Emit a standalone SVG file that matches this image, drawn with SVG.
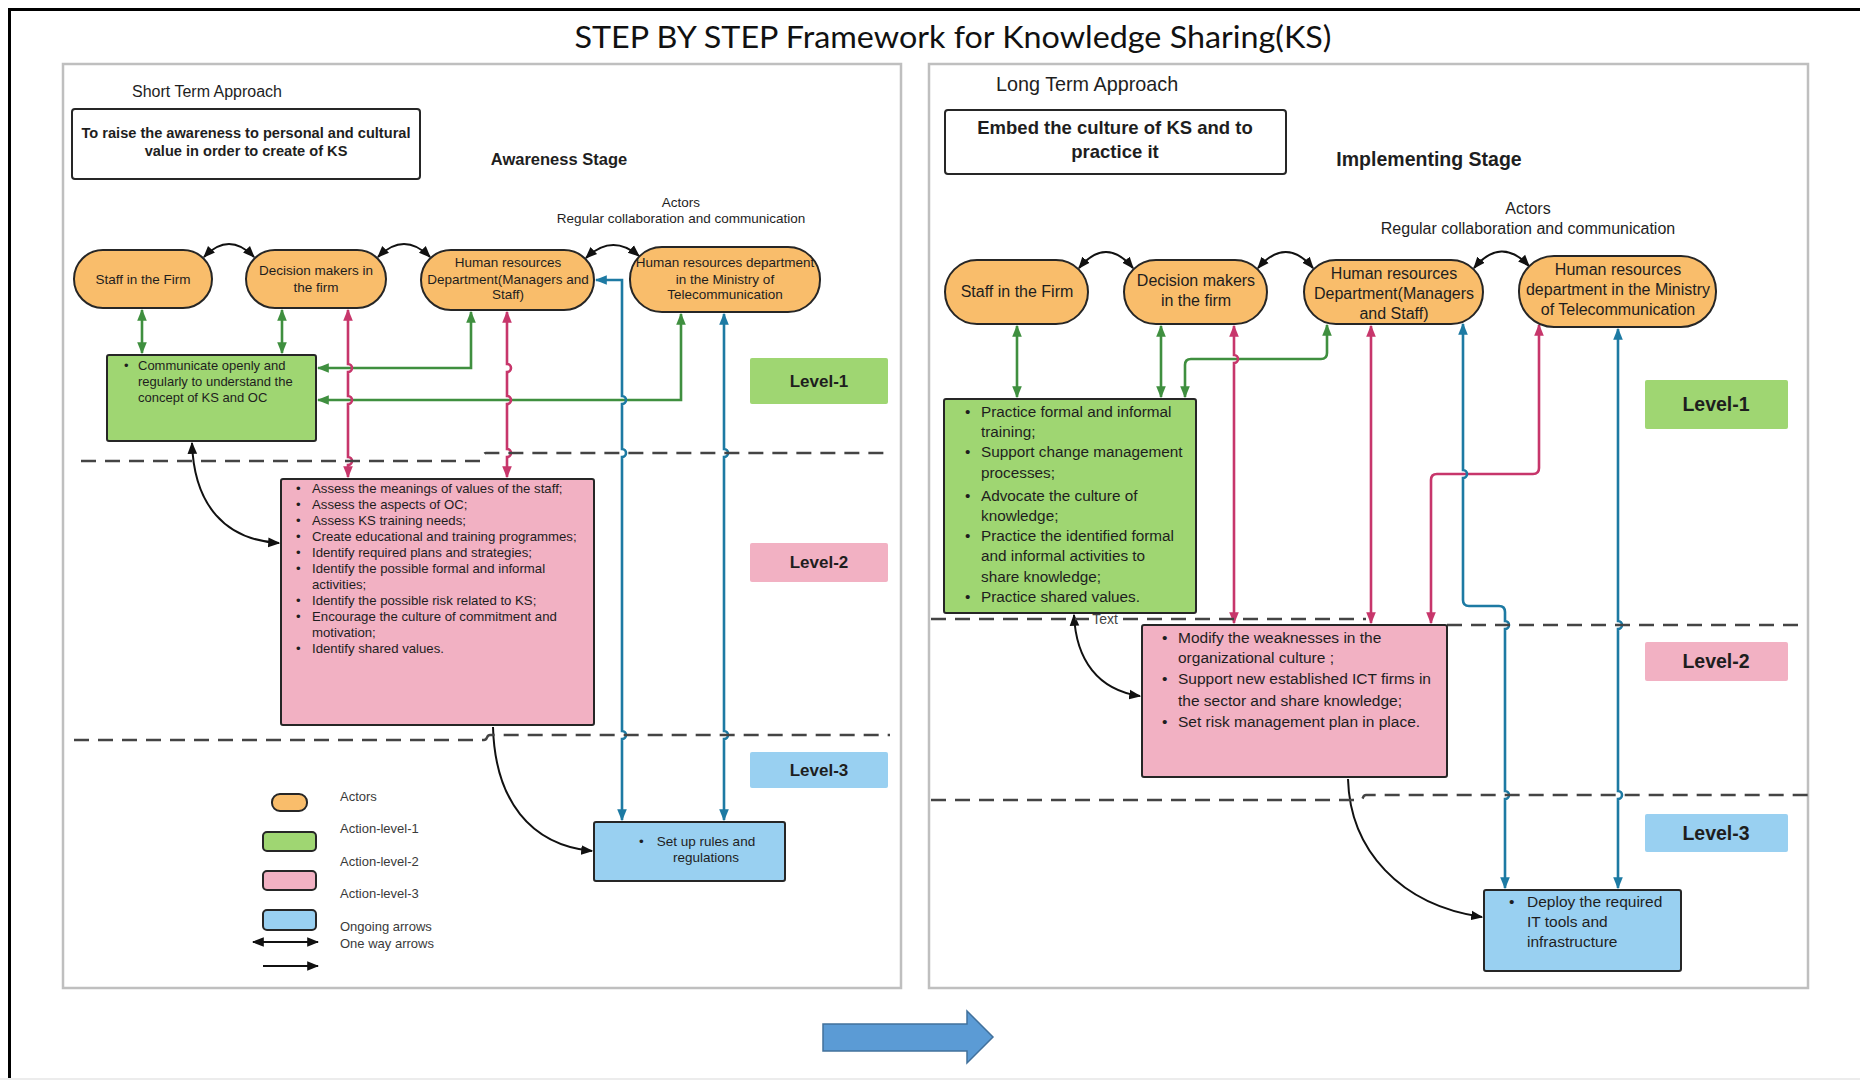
<svg xmlns="http://www.w3.org/2000/svg" width="1860" height="1080" viewBox="0 0 1860 1080">
<style>
text{font-family:"Liberation Sans",Arial,sans-serif;fill:#1e1e1e}
.panel{fill:#fff;stroke:#bfbfbf;stroke-width:2.5}
.act{fill:#f9bd6b;stroke:#262626;stroke-width:2}
.a1{fill:#9fd672;stroke:#262626;stroke-width:2}
.a2{fill:#f2b1c3;stroke:#262626;stroke-width:2}
.a3{fill:#99d0f1;stroke:#262626;stroke-width:2}
.box{fill:#fff;stroke:#262626;stroke-width:2}
.l1{fill:#9fd672}.l2{fill:#f2b1c3}.l3{fill:#99d0f1}
.lv{font-weight:bold;text-anchor:middle}
.c{text-anchor:middle}
.b{font-weight:bold}
.g{fill:none;stroke:#3f8f3f;stroke-width:2.6}
.p{fill:none;stroke:#c7366b;stroke-width:2.6}
.u{fill:none;stroke:#1d7aa3;stroke-width:2.6}
.k{fill:none;stroke:#111;stroke-width:2}
.d{fill:none;stroke:#444;stroke-width:2.4;stroke-dasharray:15 9}
.lg{font-size:13px;fill:#3a3a3a}
</style>
<defs>
<marker id="mg" viewBox="0 0 10 10" refX="9" refY="5" markerWidth="12" markerHeight="12" markerUnits="userSpaceOnUse" orient="auto-start-reverse"><path d="M0,1 L10,5 L0,9 z" fill="#3f8f3f"/></marker>
<marker id="mp" viewBox="0 0 10 10" refX="9" refY="5" markerWidth="12" markerHeight="12" markerUnits="userSpaceOnUse" orient="auto-start-reverse"><path d="M0,1 L10,5 L0,9 z" fill="#c7366b"/></marker>
<marker id="mb" viewBox="0 0 10 10" refX="9" refY="5" markerWidth="12" markerHeight="12" markerUnits="userSpaceOnUse" orient="auto-start-reverse"><path d="M0,1 L10,5 L0,9 z" fill="#1d7aa3"/></marker>
<marker id="mk" viewBox="0 0 10 10" refX="9" refY="5" markerWidth="12" markerHeight="12" markerUnits="userSpaceOnUse" orient="auto-start-reverse"><path d="M0,1 L10,5 L0,9 z" fill="#111"/></marker>
</defs>

<rect width="1860" height="1080" fill="#fff"/>
<path d="M9.5,1080 V9.5 H1860" fill="none" stroke="#000" stroke-width="3"/>
<line x1="0" y1="1079" x2="1860" y2="1079" stroke="#ececec" stroke-width="2"/>

<text x="953" y="48" class="c" style="font-family:Lato,'Liberation Sans',sans-serif;font-size:31px;fill:#111" textLength="757" lengthAdjust="spacingAndGlyphs">STEP BY STEP Framework for Knowledge Sharing(KS)</text>

<rect class="panel" x="63" y="64" width="838" height="924"/>
<rect class="panel" x="929" y="64" width="879" height="924"/>

<!-- LEFT PANEL -->
<g id="left-header">
<text x="132" y="97" style="font-size:16px">Short Term Approach</text>
<rect class="box" x="72" y="109" width="348" height="70" rx="3"/>
<text x="246" y="138" class="c b" style="font-size:14.6px">To raise the awareness to personal and cultural</text>
<text x="246" y="156" class="c b" style="font-size:14.6px">value in order to create of KS</text>
<text x="559" y="165" class="c b" style="font-size:16.5px">Awareness Stage</text>
<text x="681" y="207" class="c" style="font-size:13.5px">Actors</text>
<text x="681" y="223" class="c" style="font-size:13.5px">Regular collaboration and communication</text>
</g>

<g id="connectors-left">
<path class="g" d="M142,310 V353" marker-start="url(#mg)" marker-end="url(#mg)"/>
<path class="g" d="M282,310 V353" marker-start="url(#mg)" marker-end="url(#mg)"/>
<path class="g" d="M471,312 V368 H318" marker-start="url(#mg)" marker-end="url(#mg)"/>
<path class="g" d="M681,314 V400 H318" marker-start="url(#mg)" marker-end="url(#mg)"/>
<path class="p" d="M348,310 V364 a4,4 0 0 1 0,8 V396 a4,4 0 0 1 0,8 V457 a4,4 0 0 1 0,8 V477" marker-start="url(#mp)" marker-end="url(#mp)"/>
<path class="p" d="M507,312 V364 a4,4 0 0 1 0,8 V396 a4,4 0 0 1 0,8 V449 a4,4 0 0 1 0,8 V477" marker-start="url(#mp)" marker-end="url(#mp)"/>
<path class="u" d="M596,280 H622 V396 a4,4 0 0 1 0,8 V449 a4,4 0 0 1 0,8 V731 a4,4 0 0 1 0,8 V820" marker-start="url(#mb)" marker-end="url(#mb)"/>
<path class="u" d="M724,314 V449 a4,4 0 0 1 0,8 V731 a4,4 0 0 1 0,8 V820" marker-start="url(#mb)" marker-end="url(#mb)"/>
<path class="k" d="M204,257 Q229,231 254,257" marker-start="url(#mk)" marker-end="url(#mk)"/>
<path class="k" d="M378,257 Q404,231 430,257" marker-start="url(#mk)" marker-end="url(#mk)"/>
<path class="k" d="M586,258 Q612,233 639,256" marker-start="url(#mk)" marker-end="url(#mk)"/>
<path class="k" d="M192,443 C194,505 225,540 279,543" marker-start="url(#mk)" marker-end="url(#mk)"/>
<path class="k" d="M493,727 C495,800 530,845 592,851" marker-end="url(#mk)"/>
<path class="d" d="M81,461 H480 C484,461 482,453 486,453 H890"/>
<path class="d" d="M74,740 H484 C488,740 486,735 490,735 H890"/>
</g>

<g id="L-staff"><rect class="act" x="74" y="250" width="138" height="58" rx="29"/>
<text x="143" y="284" class="c" style="font-size:13.5px">Staff in the Firm</text></g>
<g id="L-decision"><rect class="act" x="246" y="250" width="140" height="58" rx="29"/>
<text x="316" y="275" class="c" style="font-size:13.5px">Decision makers in</text>
<text x="316" y="292" class="c" style="font-size:13.5px">the firm</text></g>
<g id="L-hr"><rect class="act" x="421" y="250" width="173" height="60" rx="30"/>
<text x="508" y="267" class="c" style="font-size:13.5px">Human resources</text>
<text x="508" y="284" class="c" style="font-size:13.5px">Department(Managers and</text>
<text x="508" y="299" class="c" style="font-size:13.5px">Staff)</text></g>
<g id="L-ministry"><rect class="act" x="630" y="247" width="190" height="65" rx="32"/>
<text x="725" y="267" class="c" style="font-size:13.5px">Human resources department</text>
<text x="725" y="284" class="c" style="font-size:13.5px">in the Ministry of</text>
<text x="725" y="299" class="c" style="font-size:13.5px">Telecommunication</text></g>

<g id="L-level1-action"><rect class="a1" x="107" y="355" width="209" height="86" rx="2"/>
<text x="124" y="370" style="font-size:13px">•</text>
<text x="138" y="370" style="font-size:13px">Communicate openly and</text>
<text x="138" y="386" style="font-size:13px">regularly to understand the</text>
<text x="138" y="402" style="font-size:13px">concept of KS and OC</text></g>

<g id="L-level2-action"><rect class="a2" x="281" y="479" width="313" height="246" rx="2"/>
<g style="font-size:13.2px">
<text x="296" y="493">•</text><text x="312" y="493">Assess the meanings of values of the staff;</text>
<text x="296" y="509">•</text><text x="312" y="509">Assess the aspects of OC;</text>
<text x="296" y="525">•</text><text x="312" y="525">Assess KS training needs;</text>
<text x="296" y="541">•</text><text x="312" y="541">Create educational and training programmes;</text>
<text x="296" y="557">•</text><text x="312" y="557">Identify required plans and strategies;</text>
<text x="296" y="573">•</text><text x="312" y="573">Identify the possible formal and informal</text>
<text x="312" y="589">activities;</text>
<text x="296" y="605">•</text><text x="312" y="605">Identify the possible risk related to KS;</text>
<text x="296" y="621">•</text><text x="312" y="621">Encourage the culture of commitment and</text>
<text x="312" y="637">motivation;</text>
<text x="296" y="653">•</text><text x="312" y="653">Identify shared values.</text>
</g></g>

<g id="L-level3-action"><rect class="a3" x="594" y="822" width="191" height="59" rx="2"/>
<text x="639" y="846" style="font-size:13.5px">•</text>
<text x="706" y="846" class="c" style="font-size:13.5px">Set up rules and</text>
<text x="706" y="862" class="c" style="font-size:13.5px">regulations</text></g>

<g id="L-levels">
<rect class="l1" x="750" y="358" width="138" height="46" rx="2"/><text x="819" y="387" class="lv" style="font-size:17px">Level-1</text>
<rect class="l2" x="750" y="543" width="138" height="39" rx="2"/><text x="819" y="568" class="lv" style="font-size:17px">Level-2</text>
<rect class="l3" x="750" y="752" width="138" height="36" rx="2"/><text x="819" y="776" class="lv" style="font-size:17px">Level-3</text>
</g>

<g id="legend">
<rect class="act" x="272" y="794" width="35" height="17" rx="8"/>
<rect class="a1" x="263" y="832" width="53" height="19" rx="4"/>
<rect class="a2" x="263" y="871" width="53" height="19" rx="4"/>
<rect class="a3" x="263" y="910" width="53" height="20" rx="4"/>
<path class="k" d="M253,942 H318" stroke-width="2.5" marker-start="url(#mk)" marker-end="url(#mk)"/>
<path class="k" d="M263,966 H318" stroke-width="2.5" marker-end="url(#mk)"/>
<text x="340" y="801" class="lg">Actors</text>
<text x="340" y="833" class="lg">Action-level-1</text>
<text x="340" y="866" class="lg">Action-level-2</text>
<text x="340" y="898" class="lg">Action-level-3</text>
<text x="340" y="931" class="lg">Ongoing arrows</text>
<text x="340" y="948" class="lg">One way arrows</text>
</g>

<!-- RIGHT PANEL -->
<g id="right-header">
<text x="996" y="91" style="font-size:19.8px">Long Term Approach</text>
<rect class="box" x="945" y="110" width="341" height="64" rx="3"/>
<text x="1115" y="134" class="c b" style="font-size:18.5px">Embed the culture of KS and to</text>
<text x="1115" y="158" class="c b" style="font-size:18.5px">practice it</text>
<text x="1429" y="166" class="c b" style="font-size:19.5px">Implementing Stage</text>
<text x="1528" y="214" class="c" style="font-size:16px">Actors</text>
<text x="1528" y="234" class="c" style="font-size:16px">Regular collaboration and communication</text>
</g>

<g id="connectors-right">
<path class="g" d="M1017,326 V397" marker-start="url(#mg)" marker-end="url(#mg)"/>
<path class="g" d="M1161,326 V397" marker-start="url(#mg)" marker-end="url(#mg)"/>
<path class="g" d="M1327,325 V353 Q1327,359 1321,359 H1191 Q1185,359 1185,365 V397" marker-start="url(#mg)" marker-end="url(#mg)"/>
<path class="p" d="M1234,326 V355 a4,4 0 0 1 0,8 V623" marker-start="url(#mp)" marker-end="url(#mp)"/>
<path class="p" d="M1371,326 V623" marker-start="url(#mp)" marker-end="url(#mp)"/>
<path class="p" d="M1539,325 V468 Q1539,474 1533,474 H1437 Q1431,474 1431,480 V623" marker-start="url(#mp)" marker-end="url(#mp)"/>
<path class="u" d="M1463,324 V470 a4,4 0 0 1 0,8 V600 Q1463,606 1469,606 H1499 Q1505,606 1505,612 V621 a4,4 0 0 1 0,8 V791 a4,4 0 0 1 0,8 V888" marker-start="url(#mb)" marker-end="url(#mb)"/>
<path class="u" d="M1618,329 V621 a4,4 0 0 1 0,8 V791 a4,4 0 0 1 0,8 V888" marker-start="url(#mb)" marker-end="url(#mb)"/>
<path class="k" d="M1079,268 Q1106,236 1133,268" marker-start="url(#mk)" marker-end="url(#mk)"/>
<path class="k" d="M1258,268 Q1286,236 1313,268" marker-start="url(#mk)" marker-end="url(#mk)"/>
<path class="k" d="M1474,268 Q1501,236 1529,266" marker-start="url(#mk)" marker-end="url(#mk)"/>
<path class="k" d="M1074,615 C1076,660 1098,690 1140,696" marker-start="url(#mk)" marker-end="url(#mk)"/>
<path class="k" d="M1348,779 C1350,850 1400,905 1482,917" marker-end="url(#mk)"/>
<path class="d" d="M931,619 H1366"/>
<path class="d" d="M1447,625 H1800"/>
<path class="d" d="M931,800 H1360 C1364,800 1362,795 1366,795 H1808"/>
<rect x="1089" y="611" width="32" height="16" fill="#fff"/>
<text x="1105" y="624" class="c" style="font-size:14px;fill:#444">Text</text>
</g>

<g id="R-staff"><rect class="act" x="945" y="260" width="143" height="64" rx="32"/>
<text x="1017" y="297" class="c" style="font-size:16px">Staff in the Firm</text></g>
<g id="R-decision"><rect class="act" x="1124" y="260" width="143" height="64" rx="32"/>
<text x="1196" y="286" class="c" style="font-size:16px">Decision makers</text>
<text x="1196" y="306" class="c" style="font-size:16px">in the firm</text></g>
<g id="R-hr"><rect class="act" x="1304" y="260" width="179" height="64" rx="32"/>
<text x="1394" y="279" class="c" style="font-size:16px">Human resources</text>
<text x="1394" y="299" class="c" style="font-size:16px">Department(Managers</text>
<text x="1394" y="319" class="c" style="font-size:16px">and Staff)</text></g>
<g id="R-ministry"><rect class="act" x="1519" y="256" width="197" height="71" rx="35"/>
<text x="1618" y="275" class="c" style="font-size:16px">Human resources</text>
<text x="1618" y="295" class="c" style="font-size:16px">department in the Ministry</text>
<text x="1618" y="315" class="c" style="font-size:16px">of Telecommunication</text></g>

<g id="R-level1-action"><rect class="a1" x="944" y="399" width="252" height="214" rx="2"/>
<g style="font-size:15.3px">
<text x="965" y="417">•</text><text x="981" y="417">Practice formal and informal</text>
<text x="981" y="437">training;</text>
<text x="965" y="457">•</text><text x="981" y="457">Support change management</text>
<text x="981" y="478">processes;</text>
<text x="965" y="501">•</text><text x="981" y="501">Advocate the culture of</text>
<text x="981" y="521">knowledge;</text>
<text x="965" y="541">•</text><text x="981" y="541">Practice the identified formal</text>
<text x="981" y="561">and informal activities to</text>
<text x="981" y="582">share knowledge;</text>
<text x="965" y="602">•</text><text x="981" y="602">Practice shared values.</text>
</g></g>

<g id="R-level2-action"><rect class="a2" x="1142" y="625" width="305" height="152" rx="2"/>
<g style="font-size:15.5px">
<text x="1162" y="643">•</text><text x="1178" y="643">Modify the weaknesses in the</text>
<text x="1178" y="663">organizational culture ;</text>
<text x="1162" y="684">•</text><text x="1178" y="684">Support new established ICT firms in</text>
<text x="1178" y="706">the sector and share knowledge;</text>
<text x="1162" y="727">•</text><text x="1178" y="727">Set risk management plan in place.</text>
</g></g>

<g id="R-level3-action"><rect class="a3" x="1484" y="890" width="197" height="81" rx="2"/>
<g style="font-size:15.5px">
<text x="1509" y="907">•</text><text x="1527" y="907">Deploy the required</text>
<text x="1527" y="927">IT tools and</text>
<text x="1527" y="947">infrastructure</text>
</g></g>

<g id="R-levels">
<rect class="l1" x="1645" y="380" width="143" height="49" rx="2"/><text x="1716" y="411" class="lv" style="font-size:19.5px">Level-1</text>
<rect class="l2" x="1645" y="642" width="143" height="39" rx="2"/><text x="1716" y="668" class="lv" style="font-size:19.5px">Level-2</text>
<rect class="l3" x="1645" y="814" width="143" height="38" rx="2"/><text x="1716" y="840" class="lv" style="font-size:19.5px">Level-3</text>
</g>

<g id="transition-arrow">
<polygon points="823,1024 967,1024 967,1011 993,1037 967,1063 967,1051 823,1051" fill="#5b9bd5" stroke="#41719c" stroke-width="1.5"/>
</g>
</svg>
